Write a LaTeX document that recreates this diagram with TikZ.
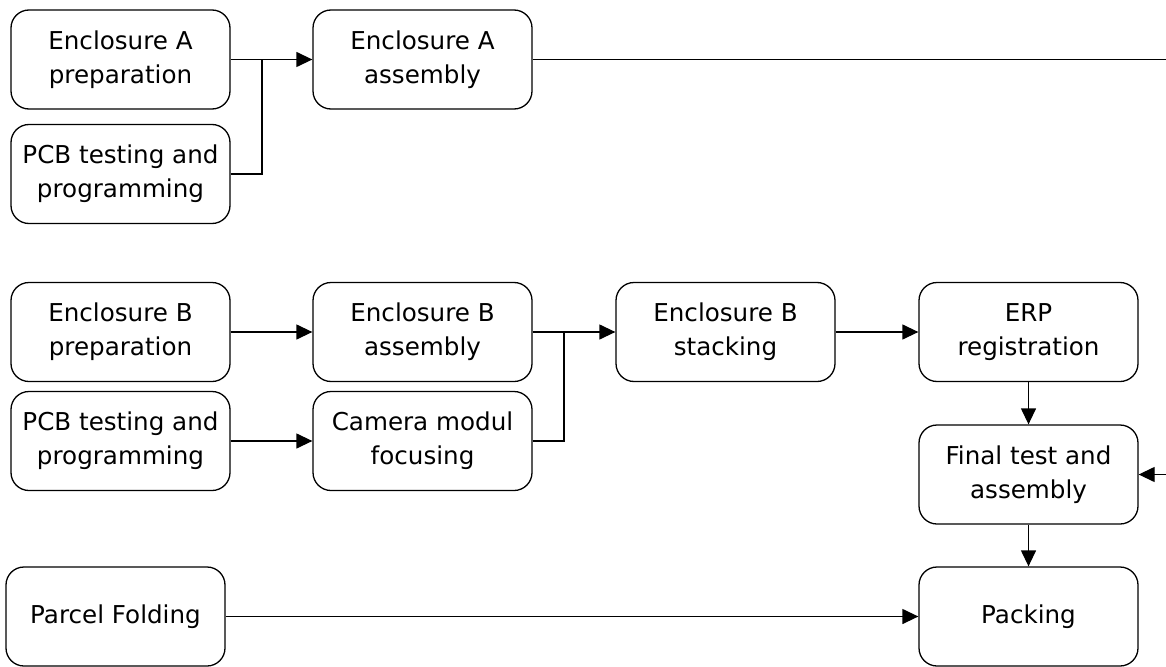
\documentclass[tikz,border=0pt]{standalone}
\usepackage{fontspec}
\setmainfont{DejaVu Sans}
\usetikzlibrary{arrows.meta}
\begin{document}
\begin{tikzpicture}[x=1pt,y=-1pt,
  proc/.style={draw, line width=1.3pt, rounded corners=18pt, minimum width=219pt, minimum height=99pt,
    align=center, inner sep=0pt, font=\fontsize{24.6}{34}\selectfont},
  conn/.style={line width=1.3pt},
  arr/.style={conn, -{Triangle[length=16pt,width=15pt]}}]
\useasboundingbox (0,0) rectangle (1166,666);
\node[proc] (eap) at (120.5,59.5) {Enclosure A\\preparation};
\node[proc] (pcba) at (120.5,174) {PCB testing and\\programming};
\node[proc] (eaa) at (422.5,59.5) {Enclosure A\\assembly};
\node[proc] (ebp) at (120.5,332) {Enclosure B\\preparation};
\node[proc] (eba) at (422.5,332) {Enclosure B\\assembly};
\node[proc] (ebs) at (725.5,332) {Enclosure B\\stacking};
\node[proc] (erp) at (1028.5,332) {ERP\\registration};
\node[proc] (pcbb) at (120.5,441) {PCB testing and\\programming};
\node[proc] (cam) at (422.5,441) {Camera modul\\focusing};
\node[proc] (fin) at (1028.5,474.5) {Final test and\\assembly};
\node[proc] (pack) at (1028.5,616.5) {Packing};
\node[proc] (parcel) at (115.5,616.5) {Parcel Folding};
\coordinate (ja) at (262,59.5);
\coordinate (jb) at (564,332);
\coordinate (topend) at (1166,59.5);
\coordinate (rightin) at (1166,474.5);
\draw[conn] (eap.east) -- (ja);
\draw[conn] (pcba.east) -| (ja);
\draw[arr] (ja) -- (eaa.west);
\draw[conn] (eaa.east) -- (topend);
\draw[arr] (ebp.east) -- (eba.west);
\draw[arr] (pcbb.east) -- (cam.west);
\draw[conn] (eba.east) -- (jb);
\draw[conn] (cam.east) -| (jb);
\draw[arr] (jb) -- (ebs.west);
\draw[arr] (ebs.east) -- (erp.west);
\draw[arr] (erp.south) -- (fin.north);
\draw[arr] (rightin) -- (fin.east);
\draw[arr] (fin.south) -- (pack.north);
\draw[arr] (parcel.east) -- (pack.west);
\end{tikzpicture}
\end{document}
